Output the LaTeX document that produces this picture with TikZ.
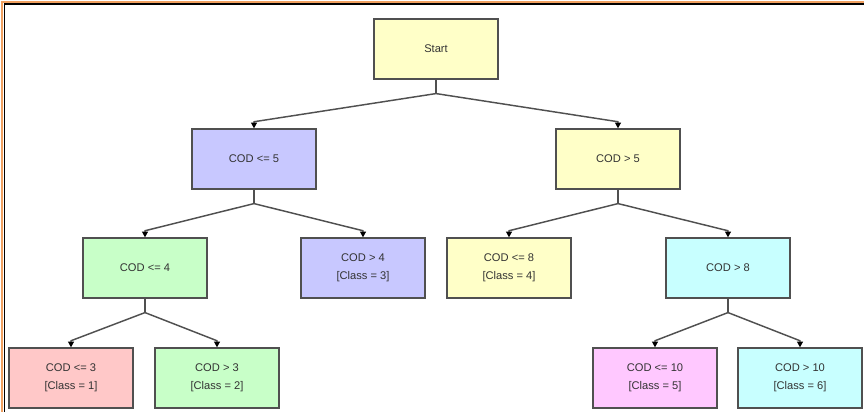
\documentclass[tikz,border=0pt]{standalone}
\usepackage{fontspec}
\setmainfont{Liberation Sans}
\usetikzlibrary{arrows.meta}

\definecolor{byellow}{RGB}{255,255,200}
\definecolor{bblue}{RGB}{200,200,255}
\definecolor{bgreen}{RGB}{200,255,200}
\definecolor{bpink}{RGB}{255,200,200}
\definecolor{bmagenta}{RGB}{255,200,255}
\definecolor{bcyan}{RGB}{200,255,255}
\definecolor{edge}{RGB}{80,80,80}
\definecolor{frameorange}{RGB}{240,160,96}

\begin{document}
\begin{tikzpicture}[x=1cm,y=1cm,line width=.35pt,font=\fontsize{9.5}{15}\selectfont,
  box/.style={draw=edge,line width=1pt,minimum width=3.72cm,minimum height=1.8cm,
    align=center,text=black!80,inner sep=0pt},
  link/.style={draw=edge,line width=1.25pt},
  arr/.style={link,-{Triangle[length=5pt,width=5pt,color=black]}}]
\useasboundingbox (0,0) rectangle (25.92,12.36);
% frame on top and left
\draw[frameorange,line width=.9pt] (.06,0)--(.06,12.3)--(25.92,12.3);
\draw[black,line width=1.2pt] (.14,0)--(.14,12.24)--(25.92,12.24);
% the tree
\node[box,fill=byellow] (start) at (13.08,10.89) {Start};
\node[box,fill=bblue] (le5) at (7.62,7.59) {COD <= 5};
\node[box,fill=byellow] (gt5) at (18.54,7.59) {COD > 5};
\node[box,fill=bgreen] (le4) at (4.35,4.32) {COD <= 4};
\node[box,fill=bblue] (gt4) at (10.89,4.32) {COD > 4\\{}[Class = 3]};
\node[box,fill=byellow] (le8) at (15.27,4.32) {COD <= 8\\{}[Class = 4]};
\node[box,fill=bcyan] (gt8) at (21.84,4.32) {COD > 8};
\node[box,fill=bpink] (le3) at (2.13,1.02) {COD <= 3\\{}[Class = 1]};
\node[box,fill=bgreen] (gt3) at (6.51,1.02) {COD > 3\\{}[Class = 2]};
\node[box,fill=bmagenta] (le10) at (19.65,1.02) {COD <= 10\\{}[Class = 5]};
\node[box,fill=bcyan] (gt10) at (24.0,1.02) {COD > 10\\{}[Class = 6]};
% branches
\foreach \p/\a/\b in {start/le5/gt5,le5/le4/gt4,gt5/le8/gt8,le4/le3/gt3,gt8/le10/gt10}{
  \draw[link] (\p.south) -- ++(0,-.42) coordinate (j\p);
  \draw[arr] (j\p) -- ([yshift=.2cm]\a.north) -- (\a.north);
  \draw[arr] (j\p) -- ([yshift=.2cm]\b.north) -- (\b.north);
}
\end{tikzpicture}
\end{document}
